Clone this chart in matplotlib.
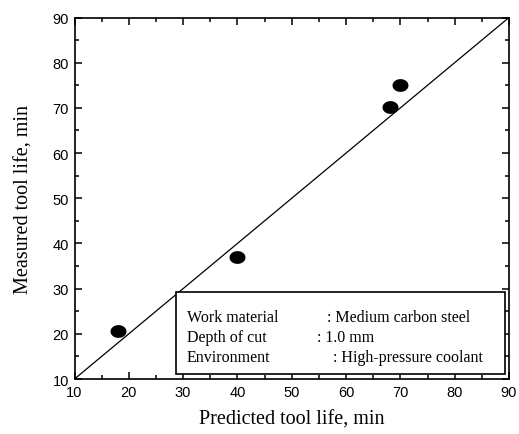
import matplotlib
matplotlib.use('Agg')
import matplotlib.pyplot as plt
import numpy as np
from matplotlib.ticker import MultipleLocator

# data
predicted = [18, 40, 68, 70]
measured = [20.6, 37, 70.2, 75]
ideal = [10, 90]
xticks = [10, 20, 30, 40, 50, 60, 70, 80, 90]
yticks = [10, 20, 30, 40, 50, 60, 70, 80, 90]
info_keys = ['Work material', 'Depth of cut', 'Environment']
info_vals = [': Medium carbon steel', ': 1.0 mm', ': High-pressure coolant']

serif = ['Liberation Serif', 'DejaVu Serif']
sans = ['Liberation Sans', 'DejaVu Sans']

fig = plt.figure(figsize=(5.19, 4.35), dpi=100)
ax = fig.add_axes([74.5 / 519, 1 - 380 / 435, (509 - 74.5) / 519, (380 - 18.5) / 435])

# ellipse marker, a bit wider than tall
t = np.linspace(0, 2 * np.pi, 60)
ell = np.column_stack([np.cos(t) * 1.0, np.sin(t) * 0.8])

ax.plot(ideal, ideal, color='black', lw=0.9)
ax.plot(predicted, measured, linestyle='none', marker=ell, ms=11.5,
        color='black', markeredgewidth=0)

ax.set_xlim(10, 90)
ax.set_ylim(10, 90)
ax.set_xticks(xticks)
ax.set_yticks(yticks)
ax.xaxis.set_minor_locator(MultipleLocator(5))
ax.yaxis.set_minor_locator(MultipleLocator(5))
ax.tick_params(which='both', direction='in', top=True, right=True, width=1.1)
ax.tick_params(which='major', length=5, labelsize=10.5, pad=4)
ax.tick_params(which='minor', length=3)
for lab in ax.get_xticklabels() + ax.get_yticklabels():
    lab.set_family(sans)
for s in ax.spines.values():
    s.set_linewidth(1.2)

ax.set_xlabel('Predicted tool life, min', family=serif, fontsize=14.5, labelpad=8)
ax.set_ylabel('Measured tool life, min', family=serif, fontsize=14.5, labelpad=14)

# info box
box = plt.Rectangle((176 / 519, 1 - 375 / 435), (505 - 176) / 519, (375 - 293) / 435,
                    transform=fig.transFigure, facecolor='white', edgecolor='black', lw=1.2,
                    zorder=5)
fig.patches.append(box)
val_x = [327, 317, 333]
line_y = [318, 338, 358]
for k, v, vx, ly in zip(info_keys, info_vals, val_x, line_y):
    fig.text(187 / 519, 1 - ly / 435, k, family=serif, fontsize=11.5, va='center', zorder=6)
    fig.text(vx / 519, 1 - ly / 435, v, family=serif, fontsize=11.5, va='center', zorder=6)

fig.savefig('out.png', dpi=100)
